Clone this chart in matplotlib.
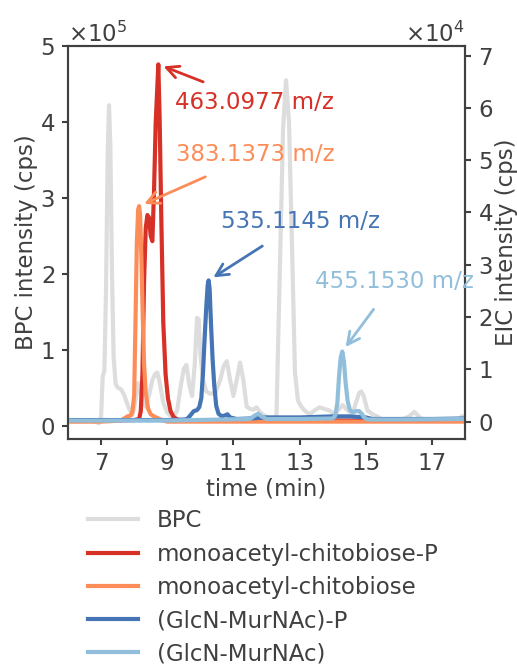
import numpy as np
import matplotlib
matplotlib.use("Agg")
import matplotlib.pyplot as plt
from matplotlib.ticker import MultipleLocator

# BPC trace (x 1e5 cps) vs time (min)
bpc_t = [6.0, 6.3, 6.6, 6.85, 6.93, 7.0, 7.05, 7.1, 7.15, 7.2, 7.24, 7.28, 7.33, 7.38,
         7.44, 7.5, 7.6, 7.7, 7.78, 7.85, 7.95, 8.05, 8.12, 8.2, 8.28, 8.35, 8.45, 8.55,
         8.63, 8.7, 8.78, 8.88, 9.0, 9.1, 9.2, 9.3, 9.4, 9.5, 9.58, 9.66, 9.75, 9.83, 9.9,
         9.95, 10.0, 10.08, 10.18, 10.3, 10.45, 10.6, 10.7, 10.8, 10.9, 11.0, 11.1, 11.2,
         11.3, 11.4, 11.5, 11.6, 11.7, 11.8, 11.9, 12.0, 12.1, 12.2, 12.3, 12.4, 12.5,
         12.59, 12.68, 12.78, 12.86, 12.95, 13.05, 13.15, 13.3, 13.45, 13.6, 13.75, 13.9,
         14.05, 14.2, 14.3, 14.45, 14.6, 14.7, 14.8, 14.86, 14.93, 15.05, 15.2, 15.35,
         15.5, 15.7, 15.9, 16.1, 16.3, 16.47, 16.65, 16.85, 17.1, 17.4, 17.65, 17.8,
         17.9, 18.0]
bpc_v = [0.06, 0.05, 0.06, 0.05, 0.03, 0.12, 0.65, 0.72, 1.8, 3.6, 4.22, 3.7, 2.0, 0.9,
         0.55, 0.5, 0.48, 0.4, 0.3, 0.22, 0.14, 0.35, 0.56, 0.45, 0.28, 0.25, 0.4, 0.6,
         0.68, 0.7, 0.55, 0.3, 0.17, 0.13, 0.12, 0.2, 0.5, 0.75, 0.8, 0.55, 0.39, 0.8, 1.42,
         1.4, 0.95, 0.6, 0.45, 0.42, 0.43, 0.6, 0.78, 0.85, 0.6, 0.39, 0.6, 0.83,
         0.6, 0.25, 0.22, 0.21, 0.24, 0.18, 0.14, 0.12, 0.1, 0.1, 0.12, 2.0, 3.9,
         4.55, 4.0, 2.2, 0.7, 0.33, 0.25, 0.2, 0.15, 0.2, 0.24, 0.22, 0.2,
         0.15, 0.22, 0.27, 0.2, 0.15, 0.3, 0.43, 0.45, 0.4, 0.2, 0.15, 0.12,
         0.08, 0.07, 0.08, 0.08, 0.12, 0.18, 0.1, 0.07, 0.07, 0.06, 0.06, 0.08,
         0.12, 0.13]

# EIC traces (x 1e4 cps)
red_t = [6.0, 7.0, 8.0, 8.15, 8.2, 8.25, 8.3, 8.35, 8.4, 8.45, 8.5, 8.55, 8.6, 8.65,
         8.7, 8.73, 8.77, 8.82, 8.88, 8.95, 9.02, 9.1, 9.2, 9.35, 10.0, 12.0, 15.0, 18.0]
red_v = [0.02, 0.02, 0.03, 0.05, 0.2, 0.9, 2.7, 3.7, 3.95, 3.9, 3.55, 3.45, 4.4, 5.7,
         6.4, 6.83, 5.8, 3.9, 1.9, 0.9, 0.45, 0.2, 0.08, 0.03, 0.02, 0.02, 0.02, 0.02]

orange_t = [6.0, 7.0, 7.6, 7.7, 7.8, 7.9, 7.95, 8.0, 8.04, 8.08, 8.12, 8.15, 8.18, 8.22,
            8.26, 8.3, 8.35, 8.42, 8.5, 8.6, 8.7, 8.8, 9.0, 12.0, 15.0, 18.0]
orange_v = [0.0, 0.0, 0.02, 0.06, 0.1, 0.12, 0.2, 0.5, 1.9, 3.4, 4.05, 4.12, 3.95, 3.1,
            2.0, 1.1, 0.55, 0.25, 0.14, 0.1, 0.07, 0.04, 0.0, 0.0, 0.0, 0.0]

blue_t = [6.0, 9.0, 9.5, 9.6, 9.7, 9.8, 9.9, 9.97, 10.03, 10.08, 10.13, 10.18, 10.22,
          10.25, 10.28, 10.32, 10.37, 10.42, 10.48, 10.55, 10.65, 10.75, 10.82, 10.9,
          11.1, 11.5, 12.0, 13.0, 14.0, 14.5, 15.0, 15.2, 16.0, 17.0, 18.0]
blue_v = [0.03, 0.03, 0.04, 0.05, 0.12, 0.2, 0.22, 0.28, 0.45, 0.93, 1.6, 2.2, 2.6,
          2.7, 2.55, 1.9, 1.2, 0.7, 0.3, 0.15, 0.1, 0.12, 0.14, 0.08,
          0.05, 0.06, 0.08, 0.08, 0.1, 0.1, 0.08, 0.05, 0.05, 0.05, 0.06]

lblue_t = [6.0, 9.0, 11.5, 11.65, 11.75, 11.85, 12.0, 13.0, 14.0, 14.08, 14.14, 14.19,
           14.24, 14.29, 14.34, 14.39, 14.45, 14.52, 14.6, 14.7, 14.8, 14.88, 14.95,
           15.05, 16.0, 18.0]
lblue_v = [0.02, 0.02, 0.05, 0.12, 0.15, 0.1, 0.05, 0.05, 0.06, 0.12, 0.35, 0.85,
           1.22, 1.34, 1.15, 0.75, 0.4, 0.22, 0.18, 0.2, 0.2, 0.15, 0.08,
           0.04, 0.04, 0.05]

labels = ["BPC", "monoacetyl-chitobiose-P", "monoacetyl-chitobiose",
          "(GlcN-MurNAc)-P", "(GlcN-MurNAc)"]
mz_labels = ["463.0977 m/z", "383.1373 m/z", "535.1145 m/z", "455.1530 m/z"]
colors = ["#dddddd", "#d73027", "#fc8d59", "#4575b4", "#91bfdb"]

plt.rcParams.update({
    "font.family": "DejaVu Sans",
    "font.size": 16.5,
    "text.color": ".25",
    "axes.labelcolor": ".25",
    "axes.edgecolor": ".25",
    "axes.linewidth": 1.5,
    "xtick.color": ".25",
    "ytick.color": ".25",
    "xtick.major.width": 1.5,
    "ytick.major.width": 1.5,
    "xtick.major.size": 4.5,
    "ytick.major.size": 4.5,
    "xtick.major.pad": 5,
    "ytick.major.pad": 5,
})

fig = plt.figure(figsize=(5.17, 6.68), dpi=100)
ax = fig.add_axes([0.1315, 0.343, 0.768, 0.588])
ax2 = ax.twinx()

l0, = ax.plot(bpc_t, np.array(bpc_v) * 1e5, color=colors[0], lw=3, label=labels[0])
eics = [(red_t, red_v), (orange_t, orange_v), (blue_t, blue_v), (lblue_t, lblue_v)]
lines = [l0]
for (t, v), c, lab in zip(eics, colors[1:], labels[1:]):
    ln, = ax2.plot(t, np.array(v) * 1e4, color=c, lw=3, label=lab)
    lines.append(ln)

ax.set_xlim(6, 18)
ax.set_ylim(-0.175e5, 5e5)
ax2.set_ylim(-0.33e4, 7.18e4)
ax.set_xticks([7, 9, 11, 13, 15, 17])
ax.yaxis.set_major_locator(MultipleLocator(1e5))
ax2.yaxis.set_major_locator(MultipleLocator(1e4))
for a in (ax, ax2):
    a.ticklabel_format(axis="y", style="sci", scilimits=(0, 0), useMathText=True)
ax.set_xlabel("time (min)", labelpad=2)
ax.set_ylabel("BPC intensity (cps)", labelpad=1)
ax2.set_ylabel("EIC intensity (cps)", labelpad=1)

# peak annotations: peak, text centre, gap between text centre and arrow tail (pt)
ann_xy = [(8.73, 6.83), (8.15, 4.12), (10.25, 2.7), (14.29, 1.34)]
ann_text = [(11.65, 6.11), (11.65, 5.10), (13.04, 3.83), (15.86, 2.68)]
ann_gap = [40, 39, 33, 25]
for lab, (px, py), (tx, ty), c, g in zip(mz_labels, ann_xy, ann_text, colors[1:], ann_gap):
    ax2.annotate(lab, xy=(px, py * 1e4), xytext=(tx, ty * 1e4), color=c,
                 ha="center", va="center",
                 arrowprops=dict(arrowstyle="->", color=c, lw=2, patchA=None,
                                 shrinkA=g, shrinkB=4, mutation_scale=22))

fig.legend(handles=lines, loc="upper left", bbox_to_anchor=(0.13, 0.2685),
           frameon=False, labelspacing=0.45, handlelength=2.2)

fig.savefig("out.png", dpi=100)
